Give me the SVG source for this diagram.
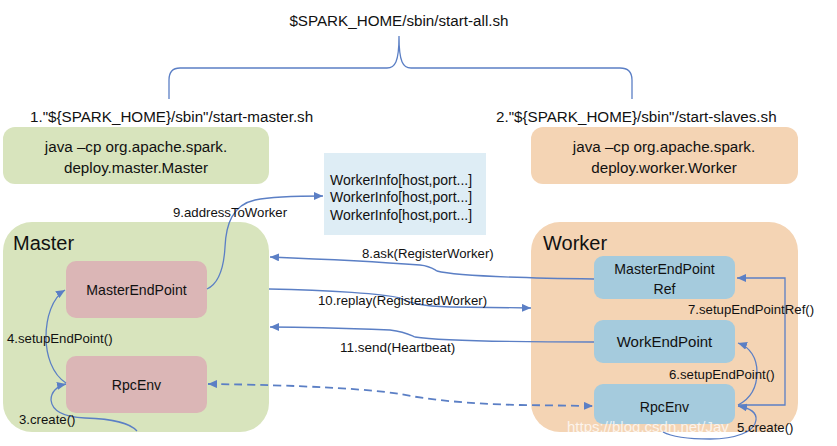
<svg xmlns="http://www.w3.org/2000/svg" width="837" height="446" viewBox="0 0 837 446">
<style>
  text { font-family: "Liberation Sans", Arial, sans-serif; fill: #111; }
  .t15 { font-size: 15.2px; }
  .node { font-size: 14.1px; }
  .lbl { font-size: 13.2px; }
  .big { font-size: 20px; }
  .info { font-size: 14px; }
  .green { fill: #d8e4bd; }
  .orange { fill: #f4d4b4; }
  .pink { fill: #dbb6b6; }
  .blue { fill: #a5cbdd; }
  .conn { fill: none; stroke: #5b7fc5; stroke-width: 1.3; }
  .dash { stroke-width: 1.8; stroke-dasharray: 8 5; }
  .wm { font-size: 15px; fill: #ffffff; fill-opacity: 0.75; }
</style>
<defs>
  <marker id="arr" markerUnits="userSpaceOnUse" markerWidth="9" markerHeight="8" refX="9" refY="4" orient="auto-start-reverse">
    <path d="M0,0 L9,4 L0,8 z" fill="#5b7fc5"/>
  </marker>
</defs>

<g id="title">
  <text class="t15" x="399" y="26" text-anchor="middle">$SPARK_HOME/sbin/start-all.sh</text>
</g>
<g id="brace">
  <path class="conn" d="M169,99 L169,80 C169,72 172,68 180,68 L387,68 C395,68 399,62 399,36 C399,62 403,68 411,68 L620,68 C628,68 632,72 632,80 L632,99"/>
</g>

<g id="start-master">
  <text class="t15" x="30" y="122">1."${SPARK_HOME}/sbin"/start-master.sh</text>
</g>
<g id="start-slaves">
  <text class="t15" x="496" y="122">2."${SPARK_HOME}/sbin"/start-slaves.sh</text>
</g>

<g id="cmd-master">
  <rect class="green" x="3" y="127" width="266" height="57" rx="12"/>
  <text class="t15" x="136" y="152" text-anchor="middle">java –cp org.apache.spark.</text>
  <text class="t15" x="136" y="173" text-anchor="middle">deploy.master.Master</text>
</g>
<g id="cmd-worker">
  <rect class="orange" x="531" y="127" width="267" height="57" rx="12"/>
  <text class="t15" x="664" y="152" text-anchor="middle">java –cp org.apache.spark.</text>
  <text class="t15" x="664" y="173" text-anchor="middle">deploy.worker.Worker</text>
</g>

<g id="worker-info">
  <rect x="324" y="153" width="162" height="82" fill="#deedf5"/>
  <text class="info" x="330" y="185">WorkerInfo[host,port...]</text>
  <text class="info" x="330" y="202">WorkerInfo[host,port...]</text>
  <text class="info" x="330" y="220">WorkerInfo[host,port...]</text>
</g>

<g id="master">
  <rect class="green" x="3" y="222" width="266" height="210" rx="29"/>
  <text class="big" x="13" y="250">Master</text>
</g>
<g id="master-endpoint">
  <rect class="pink" x="66" y="261" width="141" height="57" rx="10"/>
  <text class="node" x="136.5" y="295" text-anchor="middle">MasterEndPoint</text>
</g>
<g id="master-rpcenv">
  <rect class="pink" x="66" y="356" width="141" height="57" rx="10"/>
  <text class="node" x="136.5" y="390" text-anchor="middle">RpcEnv</text>
</g>

<g id="worker">
  <rect class="orange" x="531" y="222" width="267" height="210" rx="29"/>
  <text class="big" x="543" y="250">Worker</text>
</g>
<g id="master-endpoint-ref">
  <rect class="blue" x="594" y="256" width="141" height="43" rx="9"/>
  <text class="node" x="664.5" y="274" text-anchor="middle">MasterEndPoint</text>
  <text class="node" x="664.5" y="294" text-anchor="middle">Ref</text>
</g>
<g id="work-endpoint">
  <rect class="blue" x="594" y="320" width="141" height="43" rx="9"/>
  <text class="node" x="664.5" y="347" text-anchor="middle" style="font-size:15px">WorkEndPoint</text>
</g>
<g id="worker-rpcenv">
  <rect class="blue" x="594" y="384" width="141" height="40" rx="9"/>
  <text class="node" x="664.5" y="412" text-anchor="middle">RpcEnv</text>
</g>

<g id="watermark">
  <text class="wm" x="567" y="432">https://blog.csdn.net/Jav</text>
  <text class="wm" x="796" y="432">_Far</text>
</g>

<g id="connectors">
  <path class="conn" marker-end="url(#arr)" d="M207,289 C220,283 224,265 225,247 C226,225 232,205 255,200 C275,196 300,196 323,196"/>
  <path class="conn" marker-end="url(#arr)" d="M594,279 C520,278 455,276 437,271 C432,268 430,266 420,265 C380,262 320,259 270,257"/>
  <path class="conn" marker-end="url(#arr)" d="M269,289 C330,290 385,294 400,298 C410,303 420,306 450,307 L531,308"/>
  <path class="conn" marker-end="url(#arr)" d="M594,342 C520,342 440,341 415,337 C408,334 405,332 390,330 C340,328 300,327 270,327"/>
  <path class="conn dash" marker-start="url(#arr)" marker-end="url(#arr)" d="M208,384 C300,385 370,389 400,394 C430,400 470,404 520,405 L593,406"/>
  <path class="conn" marker-end="url(#arr)" d="M66,383 C52,374 46,355 46,337 C46,318 52,298 65,290"/>
  <path class="conn" marker-end="url(#arr)" d="M137,431 C130,423 115,419 85,418 C62,417 52,410 51,400 C51,392 57,386 66,384"/>
  <path class="conn" marker-end="url(#arr)" d="M738,405 C752,398 757,385 757,372 C757,358 750,347 738,343"/>
  <path class="conn" marker-end="url(#arr)" d="M738,405 L785,405 L785,278 L737,278"/>
  <path class="conn" marker-end="url(#arr)" d="M663,432 C672,437 690,439 710,439 C735,439 755,432 756,420 C757,412 750,408 738,406"/>

  <text class="lbl" x="173" y="217">9.addressToWorker</text>
  <text class="lbl" x="362" y="258">8.ask(RegisterWorker)</text>
  <text class="lbl" x="318" y="305">10.replay(RegisteredWorker)</text>
  <text class="lbl" x="340" y="352" style="font-size:13.5px">11.send(Heartbeat)</text>
  <text class="lbl" x="7" y="343">4.setupEndPoint()</text>
  <text class="lbl" x="19" y="424">3.create()</text>
  <text class="lbl" x="688" y="314">7.setupEndPointRef()</text>
  <text class="lbl" x="669" y="379">6.setupEndPoint()</text>
  <text class="lbl" x="737" y="432">5.create()</text>
</g>
</svg>
